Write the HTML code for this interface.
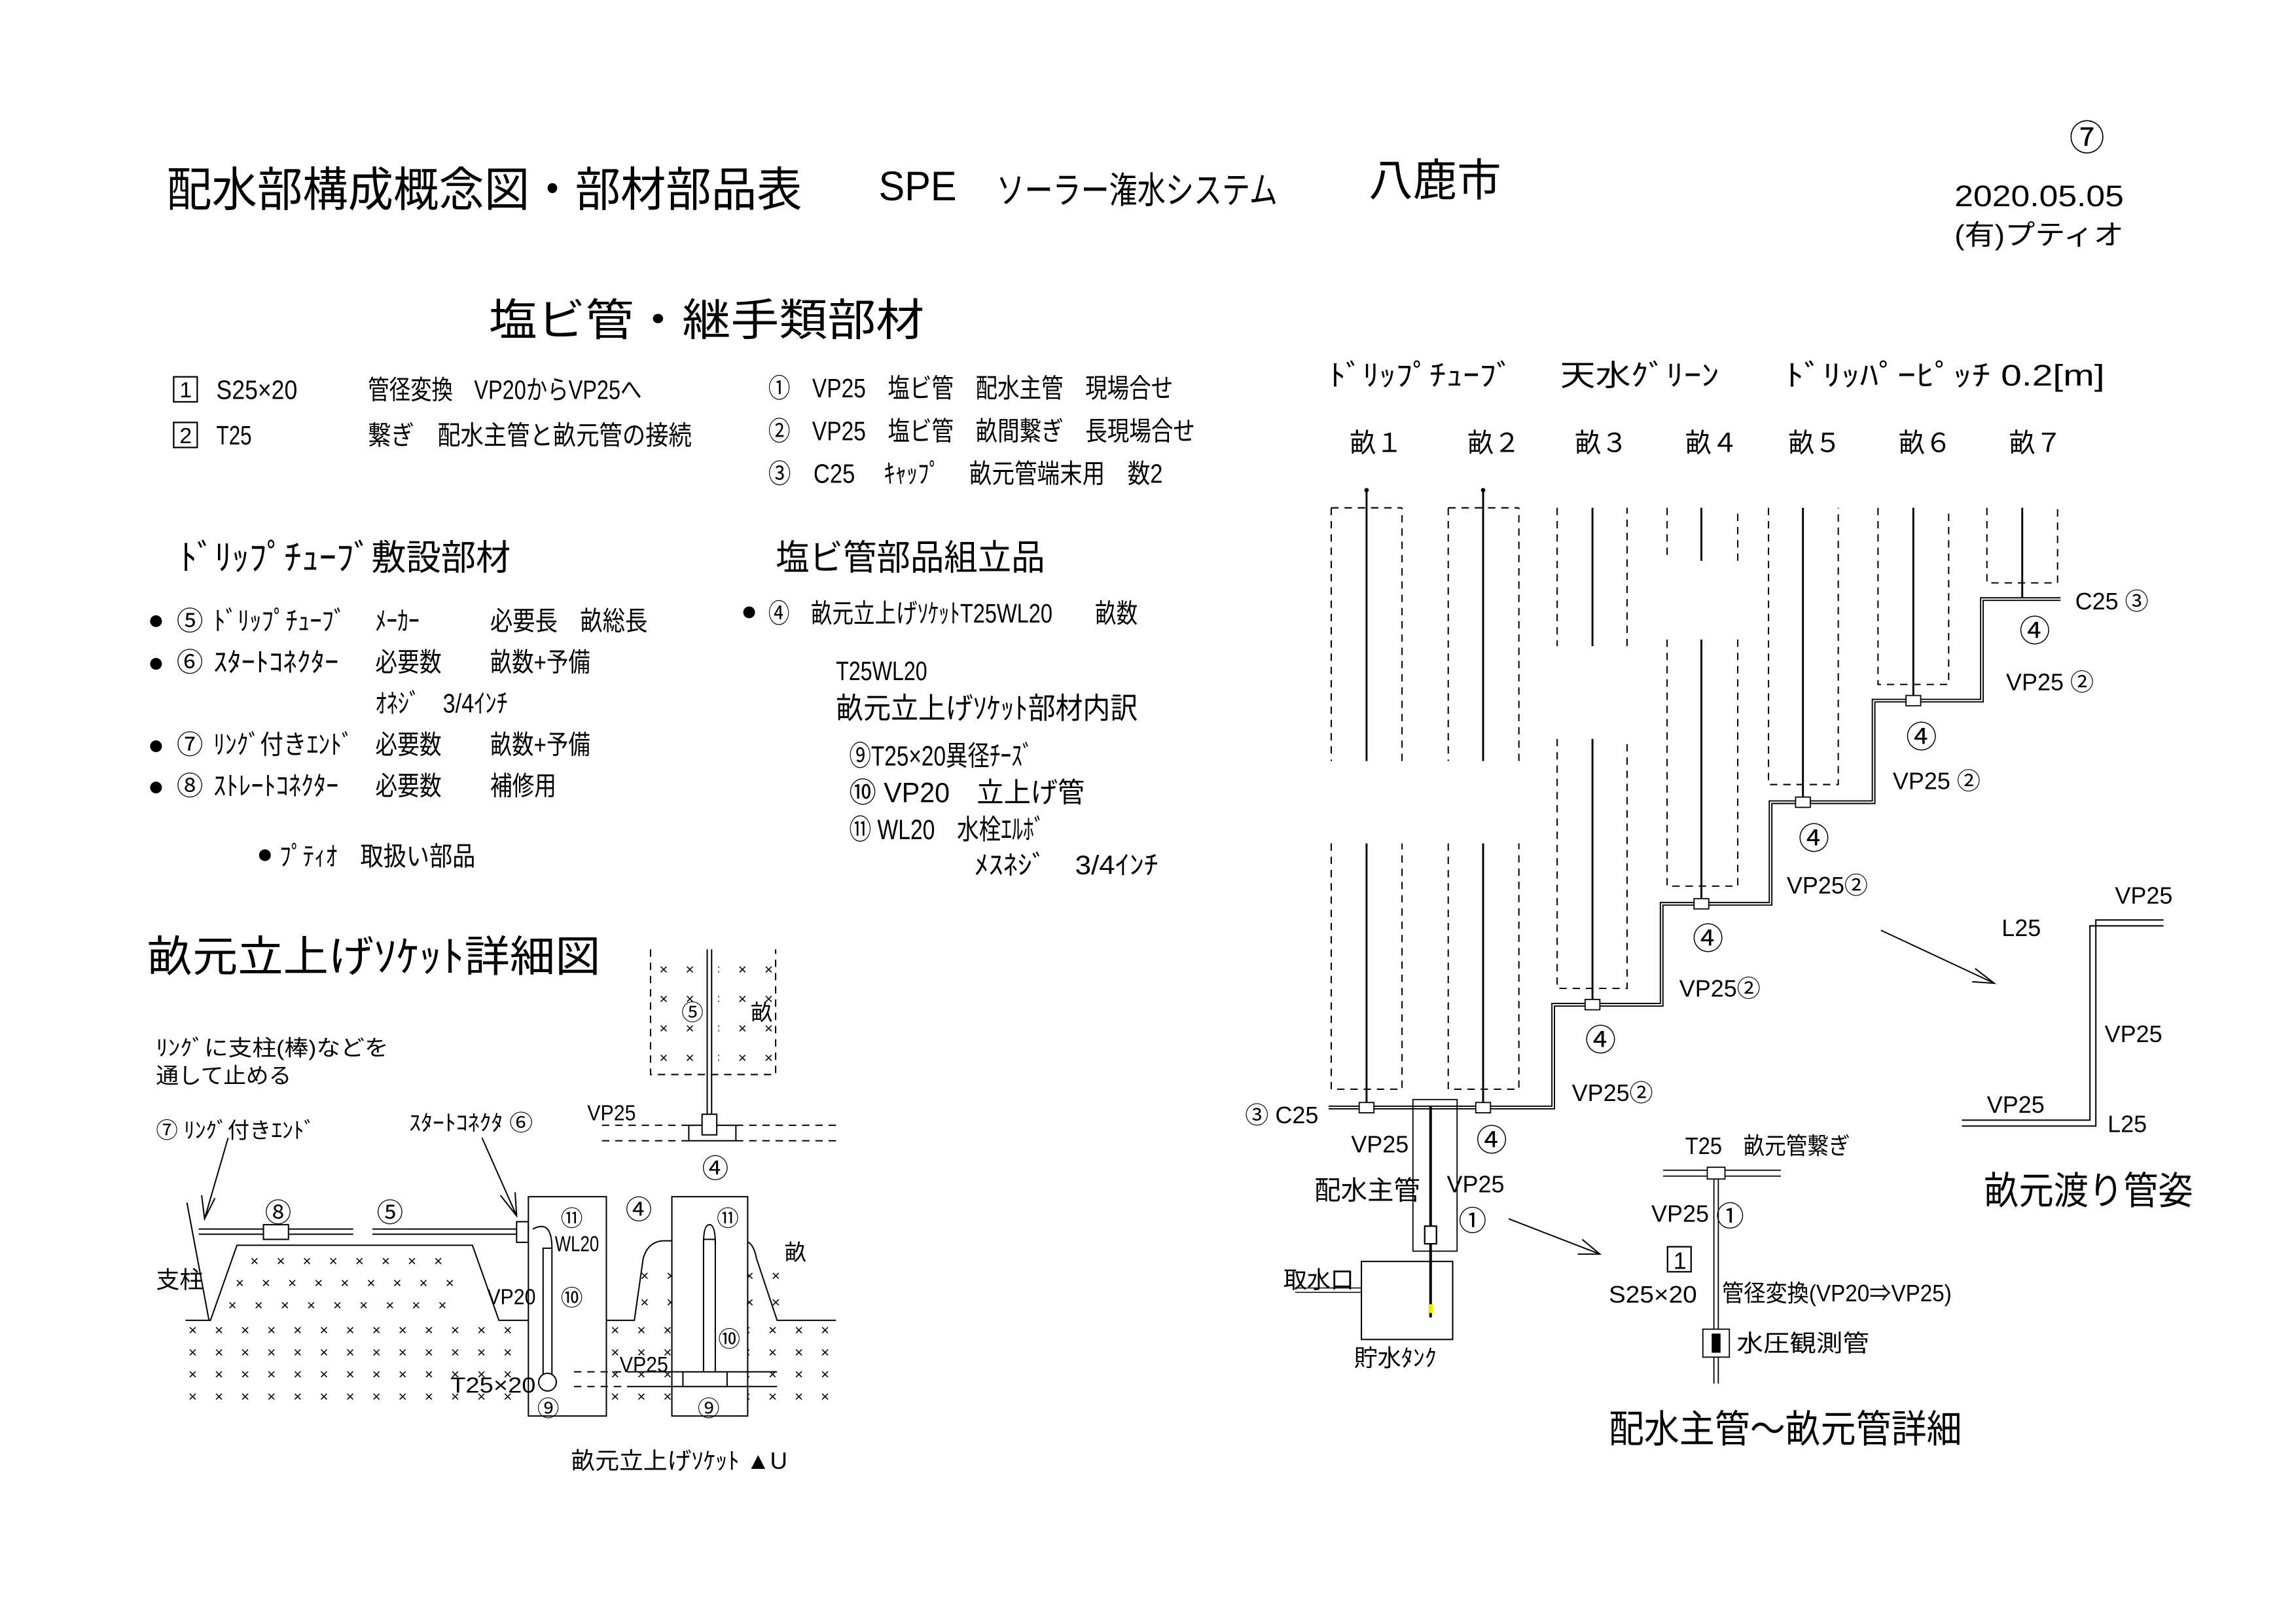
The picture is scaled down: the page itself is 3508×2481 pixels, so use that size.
<!DOCTYPE html>
<html><head><meta charset="utf-8"><style>
html,body{margin:0;padding:0;background:#fff}
svg{display:block}
text{font-family:"Liberation Sans","Noto Sans CJK JP",sans-serif;fill:#000}
</style></head><body>
<svg width="3508" height="2481" viewBox="0 0 1560 1103.3" xmlns="http://www.w3.org/2000/svg">
<rect width="1560" height="1103.3" fill="#fff"/>
<g font-size="32">
<text x="113" y="140" textLength="432" lengthAdjust="spacingAndGlyphs">配水部構成概念図・部材部品表</text>
<text x="597" y="136" font-size="28" textLength="53" lengthAdjust="spacingAndGlyphs">SPE</text>
<text x="677" y="138" font-size="25" textLength="191" lengthAdjust="spacingAndGlyphs">ソーラー潅水システム</text>
<text x="930" y="133" font-size="30" textLength="90" lengthAdjust="spacingAndGlyphs">八鹿市</text>
</g>
<text x="1406" y="102" font-size="24">⑦</text>
<text x="1328" y="140" font-size="20" textLength="115" lengthAdjust="spacingAndGlyphs">2020.05.05</text>
<text x="1328" y="166" font-size="19" textLength="115" lengthAdjust="spacingAndGlyphs">(有)プティオ</text>

<text x="332" y="228" font-size="30" textLength="296" lengthAdjust="spacingAndGlyphs">塩ビ管・継手類部材</text>
<g font-size="18">
<rect x="118" y="256" width="16" height="17" fill="none" stroke="#000"/><text x="122" y="270" font-size="15">1</text>
<rect x="118" y="287" width="16" height="17" fill="none" stroke="#000"/><text x="122" y="301" font-size="15">2</text>
<text x="147" y="271" textLength="55" lengthAdjust="spacingAndGlyphs">S25×20</text>
<text x="250" y="271" textLength="186" lengthAdjust="spacingAndGlyphs">管径変換　VP20からVP25へ</text>
<text x="147" y="302" textLength="24" lengthAdjust="spacingAndGlyphs">T25</text>
<text x="250" y="302" textLength="220" lengthAdjust="spacingAndGlyphs">繋ぎ　配水主管と畝元管の接続</text>
<text x="522" y="270" textLength="275" lengthAdjust="spacingAndGlyphs">①　VP25　塩ビ管　配水主管　現場合せ</text>
<text x="522" y="299" textLength="290" lengthAdjust="spacingAndGlyphs">②　VP25　塩ビ管　畝間繋ぎ　長現場合せ</text>
<text x="522" y="328" textLength="268" lengthAdjust="spacingAndGlyphs">③　C25　 ｷｬｯﾌﾟ　 畝元管端末用　数2</text>
</g>
<text x="122" y="387" font-size="24" textLength="225" lengthAdjust="spacingAndGlyphs">ﾄﾞﾘｯﾌﾟﾁｭｰﾌﾞ敷設部材</text>
<text x="527" y="387" font-size="24" textLength="183" lengthAdjust="spacingAndGlyphs">塩ビ管部品組立品</text>
<g font-size="18">
<circle cx="106" cy="422" r="4"/><circle cx="106" cy="451" r="4"/><circle cx="106" cy="507" r="4"/><circle cx="106" cy="535" r="4"/>
<text x="120" y="428">⑤</text><text x="145" y="428" textLength="90" lengthAdjust="spacingAndGlyphs">ﾄﾞﾘｯﾌﾟﾁｭｰﾌﾞ</text><text x="255" y="428" textLength="30" lengthAdjust="spacingAndGlyphs">ﾒｰｶｰ</text><text x="333" y="428" textLength="107" lengthAdjust="spacingAndGlyphs">必要長　畝総長</text>
<text x="120" y="456">⑥</text><text x="145" y="456" textLength="85" lengthAdjust="spacingAndGlyphs">ｽﾀｰﾄｺﾈｸﾀｰ</text><text x="255" y="456" textLength="45" lengthAdjust="spacingAndGlyphs">必要数</text><text x="333" y="456" textLength="68" lengthAdjust="spacingAndGlyphs">畝数+予備</text>
<text x="255" y="484" textLength="90" lengthAdjust="spacingAndGlyphs">ｵﾈｼﾞ　3/4ｲﾝﾁ</text>
<text x="120" y="512">⑦</text><text x="145" y="512" textLength="95" lengthAdjust="spacingAndGlyphs">ﾘﾝｸﾞ付きｴﾝﾄﾞ</text><text x="255" y="512" textLength="45" lengthAdjust="spacingAndGlyphs">必要数</text><text x="333" y="512" textLength="68" lengthAdjust="spacingAndGlyphs">畝数+予備</text>
<text x="120" y="540">⑧</text><text x="145" y="540" textLength="85" lengthAdjust="spacingAndGlyphs">ｽﾄﾚｰﾄｺﾈｸﾀｰ</text><text x="255" y="540" textLength="45" lengthAdjust="spacingAndGlyphs">必要数</text><text x="333" y="540" textLength="45" lengthAdjust="spacingAndGlyphs">補修用</text>
<circle cx="180" cy="581" r="4"/><text x="190" y="588" textLength="133" lengthAdjust="spacingAndGlyphs">ﾌﾟﾃｨｵ　取扱い部品</text>
<circle cx="509" cy="416" r="4"/><text x="522" y="423" textLength="251" lengthAdjust="spacingAndGlyphs">④　畝元立上げｿｹｯﾄT25WL20　　畝数</text>
<text x="568" y="462" textLength="62" lengthAdjust="spacingAndGlyphs">T25WL20</text>
<text x="568" y="488" font-size="20" textLength="205" lengthAdjust="spacingAndGlyphs">畝元立上げｿｹｯﾄ部材内訳</text>
<text x="577" y="520" font-size="19" textLength="125" lengthAdjust="spacingAndGlyphs">⑨T25×20異径ﾁｰｽﾞ</text>
<text x="577" y="545" font-size="19" textLength="160" lengthAdjust="spacingAndGlyphs">⑩ VP20　立上げ管</text>
<text x="577" y="570" font-size="19" textLength="133" lengthAdjust="spacingAndGlyphs">⑪ WL20　水栓ｴﾙﾎﾞ</text>
<text x="662" y="594" textLength="125" lengthAdjust="spacingAndGlyphs">ﾒｽﾈｼﾞ　3/4ｲﾝﾁ</text>
</g>

<!-- right diagram header -->
<g font-size="20">
<text x="903" y="262" textLength="125" lengthAdjust="spacingAndGlyphs">ﾄﾞﾘｯﾌﾟﾁｭｰﾌﾞ</text>
<text x="1060" y="262" textLength="108" lengthAdjust="spacingAndGlyphs">天水ｸﾞﾘｰﾝ</text>
<text x="1213" y="262" textLength="217" lengthAdjust="spacingAndGlyphs">ﾄﾞﾘｯﾊﾟｰﾋﾟｯﾁ 0.2[m]</text>
<text x="917" y="307" font-size="18">畝１</text><text x="997" y="307" font-size="18">畝２</text><text x="1070" y="307" font-size="18">畝３</text><text x="1145" y="307" font-size="18">畝４</text><text x="1215" y="307" font-size="18">畝５</text><text x="1290" y="307" font-size="18">畝６</text><text x="1365" y="307" font-size="18">畝７</text>
</g>
<g fill="none" stroke="#000" stroke-width="0.9" stroke-dasharray="5,4">
<path d="M904.5 345H952.6M904.5 345V517M904.5 573V740H952.6V573M952.6 517V345"/>
<path d="M984 345H1032M984 345V517M984 573V740H1032V573M1032 517V345"/>
<path d="M1058 345V439M1058 502V671.5H1105.5V502M1105.5 439V345"/>
<path d="M1132.7 345V381M1132.7 434.5V602H1180.7V434.5M1180.7 381V345"/>
<path d="M1201.6 345V533H1249V345"/>
<path d="M1276 345V465H1324V345"/>
<path d="M1350 345V396H1398V345"/>
</g>
<g stroke="#000" stroke-width="1.3" fill="none">
<path d="M928.5 333V517M928.5 573V752"/>
<path d="M1007.7 333V517M1007.7 573V752"/>
<path d="M1082 345V439M1082 502V682"/>
<path d="M1156 345V381M1156 434.5V614"/>
<path d="M1225 345V545"/><path d="M1300 345V476"/><path d="M1374 345V407"/>
</g>
<circle cx="928.5" cy="333" r="1.5"/><circle cx="1007.7" cy="333" r="1.5"/>
<path d="M902.7 752.4H1055.3V682.6H1129V614H1203V545H1273V476H1346.6V407H1400" fill="none" stroke="#000" stroke-width="2.6"/>
<path d="M902.7 752.4H1055.3V682.6H1129V614H1203V545H1273V476H1346.6V407H1400" fill="none" stroke="#fff" stroke-width="0.9"/>
<g fill="#fff" stroke="#000" stroke-width="0.8">
<rect x="923.5" y="749" width="10" height="7"/><rect x="1002.7" y="749" width="10" height="7"/><rect x="1077" y="679" width="10" height="7"/><rect x="1151" y="610.5" width="10" height="7"/><rect x="1220" y="541.5" width="10" height="7"/><rect x="1295" y="472.5" width="10" height="7"/>
</g>
<g font-size="16">
<text x="1003" y="782" font-size="21">④</text><text x="1077" y="714" font-size="21">④</text><text x="1150" y="645" font-size="21">④</text><text x="1222" y="577" font-size="21">④</text><text x="1295" y="508" font-size="21">④</text><text x="1372" y="436" font-size="21">④</text>
<text x="1068" y="748">VP25②</text><text x="1141" y="677">VP25②</text><text x="1214" y="607">VP25②</text><text x="1286" y="536">VP25 ②</text><text x="1363" y="469">VP25 ②</text>
<text x="1410" y="414">C25 ③</text><text x="846" y="763">③ C25</text>
<text x="918" y="783">VP25</text><text x="893" y="815" font-size="18">配水主管</text><text x="983" y="810">VP25</text><text x="991" y="836" font-size="19">①</text>
<text x="872" y="875">取水口</text><text x="920" y="928">貯水ﾀﾝｸ</text>
</g>
<rect x="960" y="747" width="30" height="103" fill="none" stroke="#000" stroke-width="0.8"/>
<line x1="972" y1="752" x2="972" y2="895" stroke="#000" stroke-width="1.8"/>
<rect x="968" y="833" width="8" height="12" fill="#fff" stroke="#000"/>
<rect x="925" y="857" width="62" height="53" fill="none" stroke="#000" stroke-width="0.9"/>
<path d="M880 875H925M880 878H925" stroke="#000" stroke-width="0.7"/>
<rect x="970.5" y="886" width="3" height="6" fill="#ee0"/>
<path d="M1025 828L1087 852M1075 842L1087 852L1072 852" stroke="#000" fill="none" stroke-width="0.9"/>
<g font-size="16">
<text x="1145" y="784" textLength="112" lengthAdjust="spacingAndGlyphs">T25　畝元管繋ぎ</text>
<text x="1122" y="830">VP25</text><text x="1166" y="833" font-size="19">①</text>
<rect x="1133" y="847" width="16" height="17" fill="none" stroke="#000"/><text x="1137" y="862">1</text>
<text x="1093" y="885" textLength="60" lengthAdjust="spacingAndGlyphs">S25×20</text>
<text x="1170" y="884" textLength="156" lengthAdjust="spacingAndGlyphs">管径変換(VP20⇒VP25)</text>
<text x="1180" y="918" textLength="90" lengthAdjust="spacingAndGlyphs">水圧観測管</text>
</g>
<path d="M1130 795H1210M1130 799H1210M1164.5 799V940M1167.5 799V940" stroke="#000" stroke-width="0.8"/>
<rect x="1160" y="793" width="12" height="8" fill="#fff" stroke="#000" stroke-width="0.8"/>
<rect x="1157" y="903" width="18" height="19" fill="#fff" stroke="#000" stroke-width="0.8"/><rect x="1163" y="906" width="6" height="13"/>
<text x="1093" y="980" font-size="26" textLength="240" lengthAdjust="spacingAndGlyphs">配水主管～畝元管詳細</text>
<path d="M1278 632L1355 668M1342 658L1355 668L1340 667" stroke="#000" fill="none" stroke-width="0.9"/>
<path d="M1470 625H1424V765H1333M1470 629H1420V761H1333" stroke="#000" fill="none" stroke-width="0.9"/>
<g font-size="16"><text x="1437" y="614">VP25</text><text x="1360" y="636">L25</text><text x="1430" y="708">VP25</text><text x="1350" y="756">VP25</text><text x="1432" y="769">L25</text></g>
<text x="1348" y="818" font-size="26" textLength="142" lengthAdjust="spacingAndGlyphs">畝元渡り管姿</text>

<!-- left detail -->
<text x="100" y="660" font-size="29" textLength="308" lengthAdjust="spacingAndGlyphs">畝元立上げｿｹｯﾄ詳細図</text>
<g font-size="10" fill="#000">
<text x="170" y="860" letter-spacing="12">××××××××</text>
<text x="160" y="875" letter-spacing="12">×××××××××</text>
<text x="155" y="890" letter-spacing="12">×××××××××</text>
<text x="128" y="907" letter-spacing="12">×××××××××××××××</text>
<text x="128" y="922" letter-spacing="12">×××××××××××××××</text>
<text x="128" y="937" letter-spacing="12">×××××××××××××××</text>
<text x="128" y="952" letter-spacing="12">×××××××××××××××</text>
<text x="415" y="907" letter-spacing="12">×××××××××</text>
<text x="415" y="922" letter-spacing="12">×××××××××</text>
<text x="415" y="937" letter-spacing="12">×××××××××</text>
<text x="415" y="952" letter-spacing="12">×××××××××</text>
<text x="435" y="870" letter-spacing="12">××××××</text>
<text x="435" y="888" letter-spacing="12">××××××</text>
<text x="448" y="662" letter-spacing="12">×××××</text>
<text x="448" y="682" letter-spacing="12">×××××</text>
<text x="448" y="702" letter-spacing="12">×××××</text>
<text x="448" y="722" letter-spacing="12">×××××</text>
</g>
<rect x="476" y="648" width="12" height="82" fill="#fff"/>
<g stroke="#000" fill="none" stroke-width="0.9">
<path d="M126 897H143L161 846H321L339 897H387"/>
<path d="M411 897H431L437 855Q440 844 450 843H506Q512 844 514 855L528 897H568"/>
<line x1="127" y1="817" x2="142" y2="897"/>
<path d="M135 835H240M135 838.5H240M253 835H351M253 838.5H351"/>
<rect x="179" y="832" width="17" height="10" fill="#fff"/>
<rect x="351" y="830" width="8" height="14" fill="#fff"/>
<path d="M155 773L139 828M137 812L139 828L146 814"/>
<path d="M327.5 773L351 826M340 812L351 826L350 810"/>
<rect x="359" y="813" width="53" height="149" fill="#fff"/>
<rect x="456.5" y="813" width="51.5" height="149" fill="#fff"/>
<path d="M369 935V848H375V935M362 835Q375 828 375 848"/>
<circle cx="372" cy="939" r="6" fill="#fff"/>
<path d="M478 935V842H486V935"/><path d="M478 845Q478 832 482 832Q486 832 486 845"/>
<rect x="464" y="932" width="30" height="10" fill="#fff"/>
<path d="M430 932H464M430 942H464M494 932H528M494 942H528"/>
<path d="M390 932H430M390 942H430" stroke-dasharray="5,4"/>
<path d="M442 645V730H527V645" stroke-dasharray="5,4"/>
<path d="M480.5 645V765M483.5 645V765"/>
<rect x="468" y="764.5" width="32" height="10.5" fill="#fff"/>
<rect x="477" y="757" width="10" height="14" fill="#fff"/>
<path d="M409 764.5H468M500 764.5H568M409 775H468M500 775H568" stroke-dasharray="5,4"/>
</g>
<g font-size="15">
<text x="106" y="717" textLength="158" lengthAdjust="spacingAndGlyphs">ﾘﾝｸﾞに支柱(棒)などを</text>
<text x="106" y="736" textLength="92" lengthAdjust="spacingAndGlyphs">通して止める</text>
<text x="106" y="773" textLength="108" lengthAdjust="spacingAndGlyphs">⑦ ﾘﾝｸﾞ付きｴﾝﾄﾞ</text>
<text x="278" y="768" textLength="84" lengthAdjust="spacingAndGlyphs">ｽﾀｰﾄｺﾈｸﾀ ⑥</text>
<text x="106" y="875" font-size="16">支柱</text>
<text x="180" y="830" font-size="18">⑧</text><text x="256" y="830" font-size="18">⑤</text><text x="425" y="828" font-size="18">④</text>
<text x="381" y="833">⑪</text><text x="377" y="850" textLength="30" lengthAdjust="spacingAndGlyphs">WL20</text><text x="381" y="887">⑩</text><text x="331" y="886" textLength="33" lengthAdjust="spacingAndGlyphs">VP20</text><text x="306" y="946" textLength="58" lengthAdjust="spacingAndGlyphs">T25×20</text><text x="365" y="962">⑨</text>
<text x="487" y="833">⑪</text><text x="488" y="915">⑩</text><text x="474" y="962">⑨</text><text x="533" y="856">畝</text><text x="421" y="932" textLength="33" lengthAdjust="spacingAndGlyphs">VP25</text>
<text x="399" y="761" textLength="33" lengthAdjust="spacingAndGlyphs">VP25</text><text x="477" y="800" font-size="18">④</text><text x="463" y="693">⑤</text><text x="510" y="693">畝</text>
<text x="388" y="998" font-size="16" textLength="147" lengthAdjust="spacingAndGlyphs">畝元立上げｿｹｯﾄ ▲U</text>
</g>
</svg>
</body></html>
